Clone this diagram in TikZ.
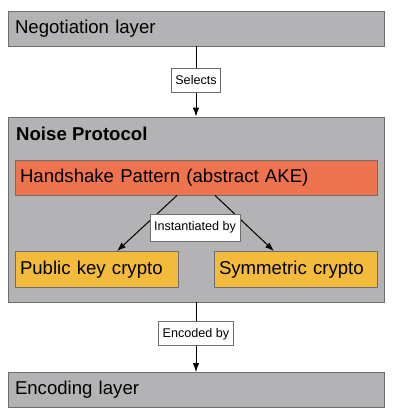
\documentclass[tikz,border=0pt]{standalone}
\usepackage{fontspec}
\setmainfont{Liberation Sans}
\usetikzlibrary{arrows.meta}
\definecolor{boxgray}{HTML}{B3B3B5}
\definecolor{edgegray}{HTML}{6E6E6E}
\definecolor{hsorange}{HTML}{EE7450}
\definecolor{cryptoyellow}{HTML}{F2BB3C}
\tikzset{
  layerbox/.style={draw=edgegray, line width=0.8pt, fill=boxgray, minimum height=35pt,
    text width=362pt, inner xsep=7pt, inner ysep=0pt, align=left,
    font=\fontsize{18.6}{20}\selectfont},
  hsbox/.style={draw=edgegray, line width=0.8pt, fill=hsorange, minimum height=35pt,
    text width=352pt, inner xsep=5pt, inner ysep=0pt, align=left,
    font=\fontsize{18.6}{20}\selectfont},
  cryptobox/.style={draw=edgegray, line width=0.8pt, fill=cryptoyellow, minimum height=36pt,
    text width=153pt, inner xsep=5pt, inner ysep=0pt, align=left,
    font=\fontsize{18.6}{20}\selectfont},
  lab/.style={draw=edgegray, line width=0.6pt, fill=white, inner xsep=4pt, inner ysep=0pt,
    minimum height=24pt, font=\fontsize{12.6}{14}\selectfont},
  conn/.style={line width=1pt, draw=black, -{Latex[length=9pt,width=6.5pt]}},
}
\begin{document}
\begin{tikzpicture}[x=1pt,y=-1pt]
\useasboundingbox (0,0) rectangle (400,417);
\node[layerbox] (neg) at (196,28.5) {Negotiation layer};
\node[draw=edgegray, line width=0.8pt, fill=boxgray, minimum width=376pt, minimum height=185pt, inner sep=0pt] (noise) at (196,209.5) {};
\node[anchor=west, inner sep=0pt, font=\fontsize{18.6}{20}\selectfont\bfseries] (title) at (16,134) {Noise Protocol};
\node[hsbox] (hs) at (196,177.5) {Handshake Pattern (abstract AKE)};
\node[cryptobox] (pk) at (96.5,269.5) {Public key crypto};
\node[cryptobox] (sym) at (295.5,269.5) {Symmetric crypto};
\node[layerbox] (enc) at (196,390) {Encoding layer};
\draw[conn] (neg.south) -- (noise.north) node[lab, pos=0.48] (sel) {Selects};
\draw[conn] ([xshift=-19pt]hs.south) -- ([xshift=20.5pt]pk.north);
\draw[conn] ([xshift=19pt]hs.south) -- ([xshift=-21.5pt]sym.north);
\node[lab, minimum height=27pt] (inst) at (195,227.5) {Instantiated by};
\draw[conn] (noise.south) -- (enc.north) node[lab, pos=0.45] (encl) {Encoded by};
\end{tikzpicture}
\end{document}
